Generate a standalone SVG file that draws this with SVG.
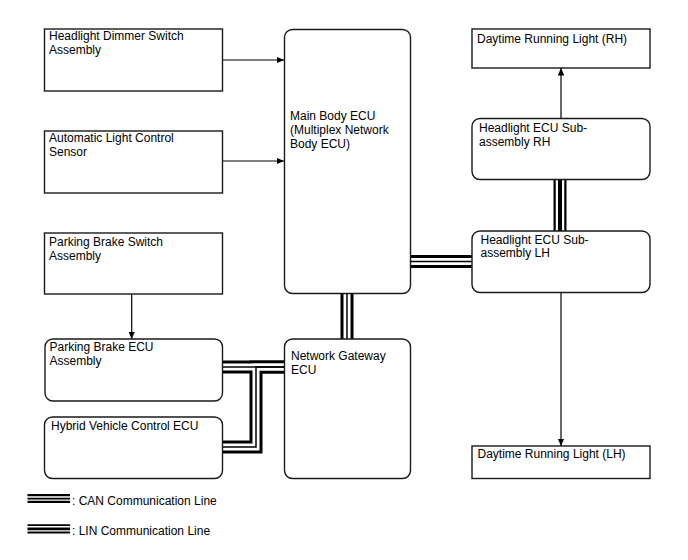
<svg xmlns="http://www.w3.org/2000/svg" width="688" height="560" viewBox="0 0 688 560">
<style>
text{font-family:"Liberation Sans",Arial,sans-serif;font-size:12px;fill:#000}
.box{fill:#fff;stroke:#1a1a1a;stroke-width:1.4}
.arr{fill:none;stroke:#000;stroke-width:1.2;marker-end:url(#ah)}
.bk{fill:none;stroke:#000;stroke-width:13;stroke-linejoin:miter}
.wh{fill:none;stroke:#fff;stroke-width:7;stroke-linejoin:miter}
.can{fill:none;stroke:#000;stroke-width:1.5;stroke-linejoin:miter}
.whl{fill:none;stroke:#fff;stroke-width:8.5}
.lin{fill:none;stroke:#000;stroke-width:4}
</style>
<defs>
<marker id="ah" markerUnits="userSpaceOnUse" markerWidth="8" markerHeight="7" refX="7.5" refY="3.25" orient="auto">
<path d="M0,0 L7.5,3.25 L0,6.5 z" fill="#000"/>
</marker>
</defs>
<g id="connectors">
<path class="arr" d="M222.7 60 H284"/>
<path class="arr" d="M222.7 161 H284"/>
<path class="arr" d="M131.7 294 V339"/>
<path class="arr" d="M561 118.5 V68"/>
<path class="arr" d="M561 292.5 V446"/>
<path class="bk" d="M347 293.5 V339"/>
<path class="bk" d="M410.7 261.5 H472"/>
<path class="bk" d="M222.5 367 H284.5"/>
<path class="bk" d="M284.5 367 H256 V447 H222.5"/>
<path class="bk" d="M560 179.5 V231"/>
<path class="wh" d="M347 293.5 V339"/>
<path class="wh" d="M410.7 261.5 H472"/>
<path class="wh" d="M222.5 367 H284.5"/>
<path class="wh" d="M284.5 367 H256 V447 H222.5"/>
<path class="whl" d="M560 179.5 V231"/>
<path class="can" d="M347 293.5 V339"/>
<path class="can" d="M410.7 261.5 H472"/>
<path class="can" d="M222.5 367 H284.5"/>
<path class="can" d="M284.5 367 H256 V447 H222.5"/>
<path class="lin" d="M560 179.5 V231"/>
</g>
<g id="dimmer"><rect class="box" x="44.5" y="29" width="178" height="62"/><text x="49" y="40">Headlight Dimmer Switch</text><text x="49" y="54">Assembly</text></g>
<g id="alc"><rect class="box" x="44.5" y="131" width="178" height="62"/><text x="49" y="141.5">Automatic Light Control</text><text x="49" y="155.5">Sensor</text></g>
<g id="mainbody"><rect class="box" x="284.5" y="29.5" width="126" height="264" rx="8"/><text x="290" y="120">Main Body ECU</text><text x="290" y="134">(Multiplex Network</text><text x="290" y="148">Body ECU)</text></g>
<g id="pbswitch"><rect class="box" x="44.5" y="233" width="178" height="61"/><text x="49" y="246">Parking Brake Switch</text><text x="49" y="260">Assembly</text></g>
<g id="pbecu"><rect class="box" x="45" y="339" width="177.5" height="62" rx="8"/><text x="49.5" y="351">Parking Brake ECU</text><text x="49.5" y="365">Assembly</text></g>
<g id="hvecu"><rect class="box" x="44.5" y="417" width="178" height="61.5" rx="8"/><text x="51" y="430">Hybrid Vehicle Control ECU</text></g>
<g id="gateway"><rect class="box" x="284.5" y="339" width="126" height="139.5" rx="8"/><text x="291" y="360">Network Gateway</text><text x="291" y="374">ECU</text></g>
<g id="drlrh"><rect class="box" x="472" y="29" width="178" height="39"/><text x="477" y="42.5">Daytime Running Light (RH)</text></g>
<g id="hlrh"><rect class="box" x="472" y="118.5" width="178" height="61" rx="8"/><text x="479" y="132">Headlight ECU Sub-</text><text x="479" y="146">assembly RH</text></g>
<g id="hllh"><rect class="box" x="472" y="231" width="178" height="61.5" rx="8"/><text x="480.5" y="243.5">Headlight ECU Sub-</text><text x="480.5" y="257">assembly LH</text></g>
<g id="drllh"><rect class="box" x="472" y="446" width="178" height="32.5"/><text x="477.5" y="458">Daytime Running Light (LH)</text></g>
<g id="legend">
<line x1="27.5" y1="495.2" x2="70" y2="495.2" stroke="#000" stroke-width="2.2"/>
<line x1="27.5" y1="498.6" x2="70" y2="498.6" stroke="#000" stroke-width="1.6"/>
<line x1="27.5" y1="501.8" x2="70" y2="501.8" stroke="#000" stroke-width="2.2"/>
<text x="72" y="505">: CAN Communication Line</text>
<line x1="27.5" y1="525.2" x2="70" y2="525.2" stroke="#000" stroke-width="1.8"/>
<line x1="27.5" y1="528.8" x2="70" y2="528.8" stroke="#000" stroke-width="2.8"/>
<line x1="27.5" y1="532.5" x2="70" y2="532.5" stroke="#000" stroke-width="1.8"/>
<text x="72" y="535">: LIN Communication Line</text>
</g>
</svg>
